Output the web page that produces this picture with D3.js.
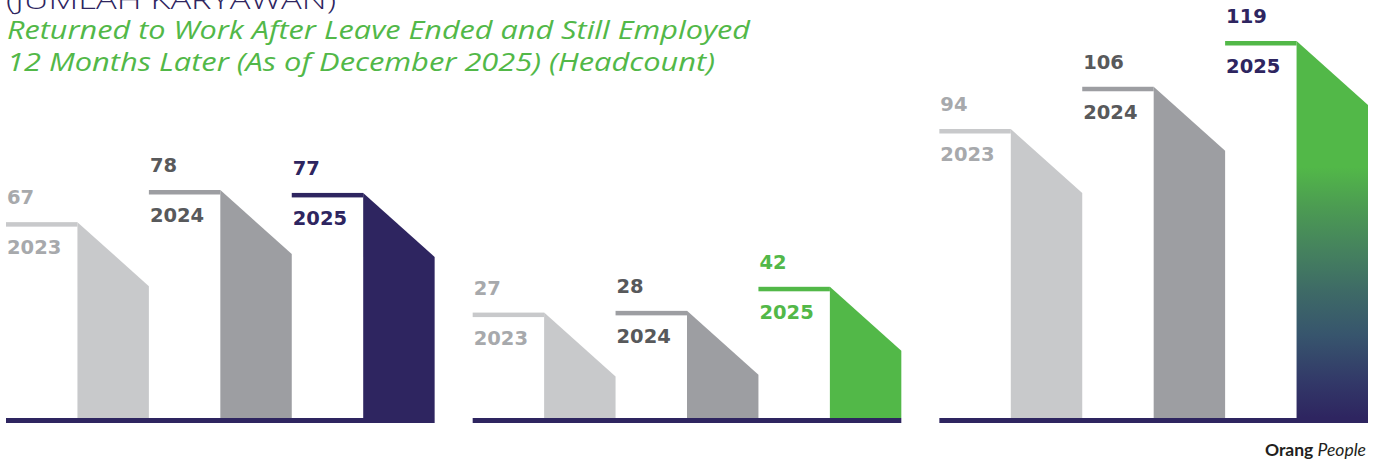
<!DOCTYPE html>
<html>
<head>
<meta charset="utf-8">
<script src="https://cdn.jsdelivr.net/npm/d3@7"></script>
<style>
  html, body { margin: 0; padding: 0; background: #ffffff; }
  svg { display: block; }
</style>
</head>
<body>
<svg id="chart" width="1376" height="461"></svg>
<script>
// Headcount returning to work after leave and still employed 12 months later
const years = ["2023", "2024", "2025"];
const groupOneValues = [67, 78, 77];
const groupTwoValues = [27, 28, 42];
const totalValues = [94, 106, 119];

const titleTop = "(JUMLAH KARYAWAN)";
const titleLines = [
  "Returned to Work After Leave Ended and Still Employed",
  "12 Months Later (As of December 2025) (Headcount)"
];
const footerBold = "Orang";
const footerItalic = "People";

const W = 1376, H = 461;
const baseY = 418;            // top edge of the baseline rule
const ruleH = 5;              // baseline rule thickness
const capH = 4.5;             // thickness of the ledge on each bar
const drop = 64;              // vertical fall of each bar's slanted top

const purple = "#2e2560";
const green = "#52b848";
const light = "#c8c9cb";
const mid = "#9d9ea2";

const svg = d3.select("#chart");
const defs = svg.append("defs");

// gradient for the tallest total bar: green fading down into purple
const grad = defs.append("linearGradient")
  .attr("id", "totalGrad")
  .attr("gradientUnits", "userSpaceOnUse")
  .attr("x1", 0).attr("x2", 0)
  .attr("y1", 40).attr("y2", baseY);
[
  [0.0, green], [0.336, green], [0.44, "#4c9c52"], [0.556, "#45825e"],
  [0.661, "#3e6b66"], [0.78, "#37556d"], [0.907, "#323868"], [1.0, purple]
].forEach(([o, c]) => grad.append("stop").attr("offset", o).attr("stop-color", c));

// each panel has its own vertical scale
const panels = [
  {
    values: groupOneValues,
    y: d3.scaleLinear().domain([0, 78]).range([baseY, baseY - 228]),
    fills: [light, mid, purple],
    ledges: [light, mid, purple],
    text: ["#a7a9ac", "#58595b", purple]
  },
  {
    values: groupTwoValues,
    y: d3.scaleLinear().domain([0, 42]).range([baseY - 59, baseY - 131.2]),
    fills: [light, mid, green],
    ledges: [light, mid, green],
    text: ["#a7a9ac", "#58595b", green]
  },
  {
    values: totalValues,
    y: d3.scaleLinear().domain([94, 119]).range([129, 41]),
    fills: [light, mid, "url(#totalGrad)"],
    ledges: [light, mid, green],
    text: ["#a7a9ac", "#58595b", purple]
  }
];

const panelX = d3.scaleBand()
  .domain(d3.range(panels.length))
  .range([6, 1368])
  .paddingInner(0.0815);

const labelFont = "'DejaVu Sans', sans-serif";

panels.forEach((p, i) => {
  const x0 = panelX(i);
  const x = d3.scaleBand().domain(years).range([x0, x0 + panelX.bandwidth()]);
  const half = x.bandwidth() / 2;
  const g = svg.append("g");

  years.forEach((yr, j) => {
    const v = p.values[j];
    const top = p.y(v);
    const xs = x(yr);
    const xm = xs + half;
    const xe = xs + x.bandwidth();

    // slanted column
    g.append("path")
      .attr("d", `M${xm},${top} L${xe},${top + drop} L${xe},${baseY} L${xm},${baseY} Z`)
      .attr("fill", p.fills[j]);

    // ledge
    g.append("rect")
      .attr("x", xs).attr("y", top)
      .attr("width", half).attr("height", capH)
      .attr("fill", p.ledges[j]);

    // value above the ledge
    g.append("text")
      .attr("x", xs + 1).attr("y", top - 18)
      .attr("font-family", labelFont)
      .attr("font-weight", "bold")
      .attr("font-size", 19.5)
      .attr("fill", p.text[j])
      .text(v);

    // year below the ledge
    g.append("text")
      .attr("x", xs + 1).attr("y", top + 32)
      .attr("font-family", labelFont)
      .attr("font-weight", "bold")
      .attr("font-size", 19.5)
      .attr("fill", p.text[j])
      .text(yr);
  });

  // baseline rule
  g.append("rect")
    .attr("x", x0).attr("y", baseY)
    .attr("width", panelX.bandwidth()).attr("height", ruleH)
    .attr("fill", purple);
});

// titles
svg.append("text")
  .attr("x", 6).attr("y", 9)
  .attr("font-family", "'Open Sans', sans-serif")
  .attr("font-weight", 300)
  .attr("font-size", 26)
  .attr("fill", purple)
  .attr("textLength", 330)
  .attr("lengthAdjust", "spacingAndGlyphs")
  .text(titleTop);

titleLines.forEach((t, k) => {
  svg.append("text")
    .attr("x", 7).attr("y", 39 + k * 32)
    .attr("font-family", "'Open Sans', sans-serif")
    .attr("font-style", "italic")
    .attr("font-size", 25)
    .attr("fill", "#52b848")
    .attr("textLength", k === 0 ? 743 : 708)
    .attr("lengthAdjust", "spacingAndGlyphs")
    .text(t);
});

// footer
const foot = svg.append("text")
  .attr("x", 1366).attr("y", 456)
  .attr("text-anchor", "end")
  .attr("font-family", "Lato, sans-serif")
  .attr("font-size", 17.5)
  .attr("fill", "#231f20");
foot.append("tspan").attr("font-weight", "bold").text(footerBold + " ");
foot.append("tspan").attr("font-style", "italic").text(footerItalic);
</script>
</body>
</html>
